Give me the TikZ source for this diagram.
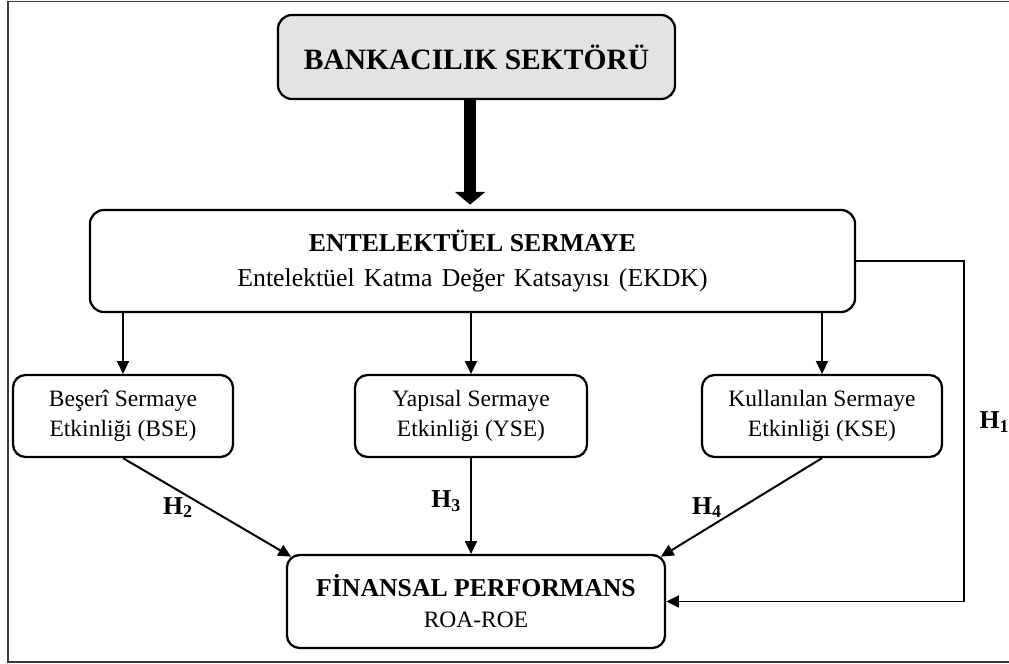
\documentclass[tikz,border=0pt]{standalone}
\usepackage{fontspec}
\setmainfont{Liberation Serif}
\usepackage{tikz}
\usetikzlibrary{positioning,arrows.meta,calc}
\definecolor{boxGray}{HTML}{E3E3E3}
\definecolor{frameGray}{HTML}{3A3A3A}
\tikzset{
  topbox/.style={draw, rounded corners=10pt, line width=1.6pt, fill=boxGray,
                 minimum width=9.925cm, minimum height=2.1cm,
                 font=\fontsize{21}{25}\selectfont\bfseries},
  mainbox/.style={draw, rounded corners=10pt, line width=1.6pt, align=center,
                  font=\fontsize{18.3}{25}\selectfont},
  effbox/.style={draw, rounded corners=9pt, line width=1.6pt, align=center,
                 minimum height=2.05cm, font=\fontsize{16.7}{21.5}\selectfont},
  stdarrow/.style={-{Triangle[length=9pt,width=8.5pt]}, line width=1.4pt},
  bigarrow/.style={-{Triangle[length=9pt,width=21pt]}, line width=8.5pt,
                   shorten >=3pt},
  hlabel/.style={font=\fontsize{18.3}{20}\selectfont\bfseries},
}

\begin{document}
\begin{tikzpicture}[x=0.025cm, y=-0.025cm]
\useasboundingbox (0,0) rectangle (1009,664);
\clip (0,0) rectangle (1009,664);

%% Outer frame
\draw[frameGray, line width=1.2pt] (8,1.5) rectangle (1030,662);

%% Boxes
\node[topbox] (bank) at (476.5,57) {BANKACILIK SEKTÖRÜ};
\node[mainbox, minimum width=19.125cm, minimum height=2.55cm] (ek) at (472.5,261)
  {\textbf{ENTELEKTÜEL SERMAYE}\\
   {\spaceskip=0.36em Entelektüel Katma Değer Katsayısı (EKDK)}};
\node[effbox, minimum width=5.5cm]  (bse) at (123,416) {Beşerî Sermaye\\Etkinliği (BSE)};
\node[effbox, minimum width=5.8cm]  (yse) at (471,416) {Yapısal Sermaye\\Etkinliği (YSE)};
\node[effbox, minimum width=6.0cm]  (kse) at (822,416) {Kullanılan Sermaye\\Etkinliği (KSE)};
\node[mainbox, rounded corners=9pt, minimum width=9.45cm, minimum height=2.325cm,
      font=\fontsize{16.7}{22}\selectfont] (fp) at (476,601.5)
  {{\fontsize{18.3}{22}\selectfont\bfseries FİNANSAL PERFORMANS}\\ROA-ROE};

%% Sector -> intellectual capital
\coordinate (bankout) at ([xshift=-0.16cm]bank.south);
\draw[bigarrow] (bankout) -- (bankout |- ek.north);

%% Intellectual capital -> components
\foreach \n in {bse, yse, kse} {
  \draw[stdarrow] (\n.north |- ek.south) -- (\n.north);
}

%% Components -> financial performance
\draw[stdarrow] (bse.south) -- node[hlabel, pos=0.5, left=6pt] {H\textsubscript{2}}
  ([xshift=0.13cm, yshift=-0.07cm]fp.north west);
\draw[stdarrow] (yse.south) -- node[hlabel, pos=0.45, left=3pt] {H\textsubscript{3}}
  (yse.south |- fp.north);
\draw[stdarrow] (kse.south) -- node[hlabel, pos=0.5, left=10pt] {H\textsubscript{4}}
  ([xshift=-0.13cm, yshift=-0.07cm]fp.north east);

%% Direct path H1
\coordinate (hright) at (964,0);
\draw[stdarrow] (ek.east) -- (ek.east -| hright) -- (hright |- fp.east)
  -- (fp.east);
\node[hlabel, anchor=west, inner sep=1pt] (h1) at (978,422) {H\textsubscript{1}};
\end{tikzpicture}
\end{document}
